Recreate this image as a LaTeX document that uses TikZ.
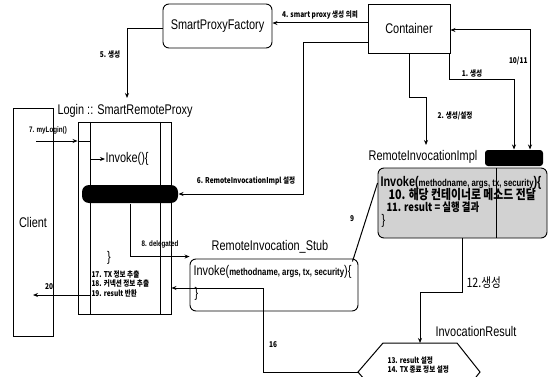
\documentclass[tikz,border=0pt]{standalone}
\usepackage{fontspec}
\setmainfont{Liberation Sans}[FakeStretch=0.78]
\newfontfamily\kr{Noto Sans CJK KR}[FakeStretch=0.82]
\usetikzlibrary{arrows.meta,calc}
\begin{document}
\begin{tikzpicture}[x=1pt,y=-1pt,
  line width=1pt,
  arr/.style={-{Stealth[length=5pt,width=4pt]}},
  darr/.style={{Stealth[length=5pt,width=4pt]}-{Stealth[length=5pt,width=4pt]}},
  big/.style={font=\fontsize{14}{16}\selectfont, inner sep=0pt},
  lbl/.style={font=\kr\bfseries\fontsize{8}{9}\selectfont, inner sep=0pt},
  sm/.style={font=\kr\bfseries\fontsize{8}{9}\selectfont, inner sep=0pt},
  box/.style={draw, line width=0.9pt, inner sep=0pt},
  rbox/.style={box, rounded corners=6pt},
  blackbar/.style={fill=black, inner sep=0pt}
]
\fill[white] (0,0) rectangle (551,377);
\useasboundingbox (0,0) rectangle (551,377);
\begin{scope}
\clip (0,0) rectangle (551,377);

% ---------- nodes ----------
\node[rbox, big, minimum width=109pt, minimum height=44pt] (spf) at (217.5,26) {SmartProxyFactory};
\node[box, big, minimum width=82pt, minimum height=49pt] (cont) at (409,28.5) {Container};

\node[big, anchor=west] (srplbl) at (57,111) {Login :: SmartRemoteProxy};
\node[box, big, minimum width=40pt, minimum height=228pt] (client) at (33,222) {Client};
\node[box, minimum width=93pt, minimum height=192pt] (srp) at (124.5,218) {};
\draw[line width=0.9pt] (90,122) -- (90,314) (160,122) -- (160,314);
\node[blackbar, rounded corners=7pt, minimum width=96pt, minimum height=18pt] (bar1) at (130,194) {};
\node[big, anchor=west] (inv1) at (105,159) {Invoke()\{};
\node[big] (close1) at (109,258) {\}};
\node[sm, anchor=west] (t17) at (91,275) {17. TX 정보 추출};
\node[sm, anchor=west] (t18) at (91,284) {18. 커넥션 정보 추출};
\node[sm, anchor=west] (t19) at (91,293) {19. result 반환};

\node[big] (stublbl) at (270,247) {RemoteInvocation\_Stub};
\node[rbox, minimum width=168pt, minimum height=52pt] (stub) at (274,285) {};
\node[anchor=west, inner sep=0pt] (stubinv) at (193,272) {\fontsize{14}{16}\selectfont Invoke(\fontsize{10}{11}\selectfont\bfseries methodname, args, tx, security\fontsize{14}{16}\selectfont\mdseries)\{};
\node[big, anchor=west] (stubclose) at (194,294) {\}};

\node[big] (impllbl) at (423,157) {RemoteInvocationImpl};
\node[blackbar, rounded corners=3pt, minimum width=58pt, minimum height=16pt] (bar2) at (514,158) {};
\node[rbox, fill=gray!35, minimum width=169pt, minimum height=70pt] (impl) at (462.5,203) {};
\draw[line width=0.9pt] (496,168) -- (496,238);
\node[anchor=west, inner sep=0pt] (implinv) at (380,183) {\fontsize{14}{16}\selectfont\bfseries Invoke(\fontsize{10}{11}\selectfont methodname, args, tx, security\fontsize{14}{16}\selectfont)\{};
\node[anchor=west, inner sep=0pt, font=\kr\bfseries\fontsize{13.2}{15}\selectfont] (impl10) at (388,195) {10. 해당 컨테이너로 메소드 전달};
\node[anchor=west, inner sep=0pt, font=\kr\bfseries\fontsize{11.5}{13}\selectfont] (impl11) at (386,207) {11. result = 실행 결과};
\node[big, anchor=west] (implclose) at (381,221) {\}};

\node[big] (irlbl) at (476,331) {InvocationResult};
\draw[line width=1pt] (383,343) -- (457,343) -- (480,372) -- (457,401) -- (383,401) -- (358,372) -- cycle;
\coordinate (hexL) at (358,372);
\coordinate (hexT) at (420,343);
\node[sm, anchor=west] (t13) at (387,361) {13. result 설정};
\node[sm, anchor=west] (t14) at (387,370) {14. TX 종료 정보 설정};

% ---------- connectors ----------
% 4
\draw[arr] (cont.west |- 0,23) -- (spf.east |- 0,23);
\node[lbl] (l4) at (320,15) {4. smart proxy 생성 의뢰};
% 5
\coordinate (c5) at (127,98);
\draw[arr] (spf.west |- 0,29) -| (c5);
\node[lbl] (l5) at (110,55) {5. 생성};
% 7
\coordinate (c7) at (36,141);
\draw[arr] (c7) -- (srp.west |- c7);
\node[lbl, font=\bfseries\fontsize{8}{9}\selectfont] (l7) at (48,130) {7. myLogin()};
\draw[arr] (srp.west |- c7) -- (90,141) |- (inv1.west);
% 6
\coordinate (c6) at (303,194);
\draw[arr] (cont.west |- 0,43) -| (c6) -- (bar1.east);
\node[lbl] (l6) at (246,181) {6. RemoteInvocationImpl 설정};
% 8
\draw[arr] (bar1.south) |- ([yshift=2pt]stub.north west);
\node[lbl, font=\bfseries\fontsize{8}{9}\selectfont] (l8) at (160,244) {8. delegated};
% 9
\draw ([xshift=-6pt,yshift=-3pt]stub.north east) -- ([yshift=20pt]impl.west);
\node[lbl] (l9) at (352,219) {9};
% 16
\coordinate (c16) at (263,288);
\draw[arr] (hexL) -| (c16) -- (srp.east |- c16);
\node[lbl] (l16) at (273,345) {16};
% 20
\coordinate (c20) at (90,295);
\draw[arr] (c20) -- (client.center |- c20);
\node[lbl] (l20) at (49,287) {20};
% 1
\coordinate (c1) at (514,80);
\draw[arr] ([xshift=-1pt]cont.south east) |- (c1) -- (bar2.north -| c1);
\node[lbl] (l1) at (472,74) {1. 생성};
% 10/11
\coordinate (c10) at (530,30);
\draw[darr] (cont.east |- c10) -| (bar2.north -| c10);
\node[lbl, anchor=east] (l10) at (528,61) {10/11};
% 2
\coordinate (c2) at (426,98);
\coordinate (c2b) at (426,145);
\draw[arr] (cont.south) |- (c2) -- (c2b);
\node[lbl] (l2) at (455,116) {2. 생성/설정};
% 12
\coordinate (c12) at (420,292);
\draw[arr] (impl.south) |- (c12) -- (hexT);
\node[anchor=west, inner sep=0pt, font=\kr\fontsize{13}{15}\selectfont] (l12) at (466,283) {12.생성};
\end{scope}
\end{tikzpicture}
\end{document}
